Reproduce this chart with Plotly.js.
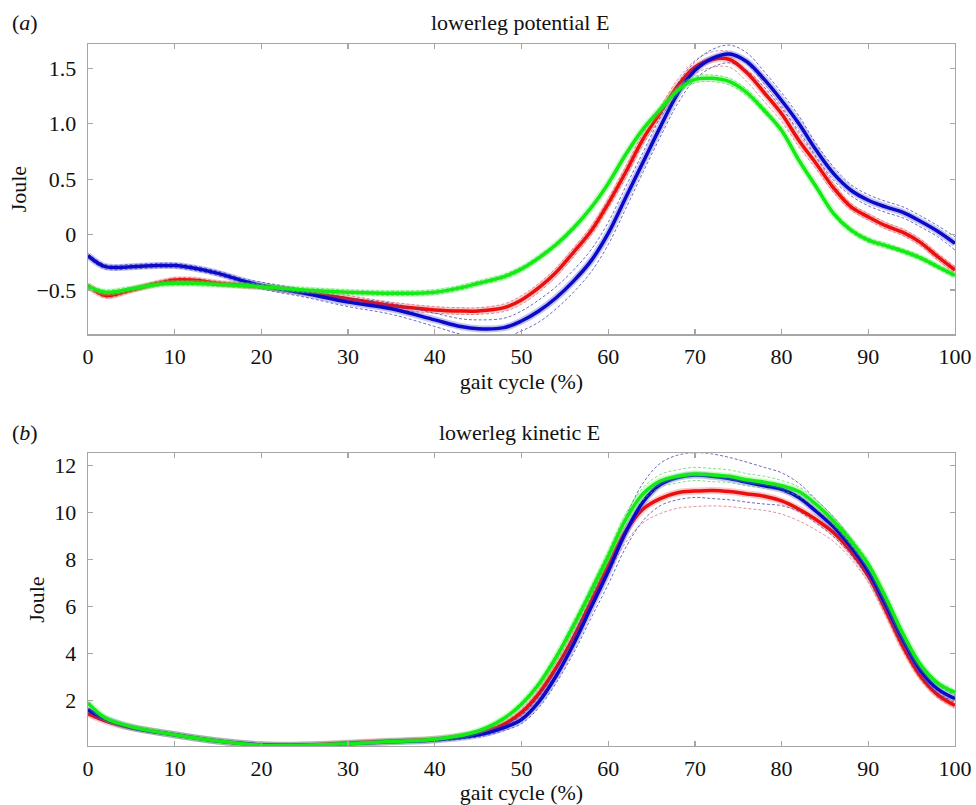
<!DOCTYPE html>
<html>
<head>
<meta charset="utf-8">
<script src="https://cdn.plot.ly/plotly-3.0.1.min.js"></script>
<style>html,body{margin:0;padding:0;background:#fff;}#chart{width:976px;height:805px;}</style>
</head>
<body>
<div id="chart"></div>
<script>
// ---------- Panel (a): lowerleg potential E ----------
const xA = [0,2,5,8,10,12,15,18,20,25,30,35,40,43,45,48,50,52,54,56,58,60,62,64,66,68,70,72,74,76,78,80,82,84,86,88,90,92,94,96,98,100];
const blueA  = [-0.19,-0.29,-0.29,-0.28,-0.28,-0.30,-0.35,-0.42,-0.46,-0.53,-0.61,-0.67,-0.77,-0.83,-0.85,-0.84,-0.78,-0.69,-0.57,-0.42,-0.24,0.01,0.33,0.65,0.97,1.27,1.48,1.59,1.63,1.56,1.40,1.21,1.00,0.76,0.55,0.40,0.31,0.25,0.20,0.12,0.03,-0.08];
const redA   = [-0.46,-0.55,-0.50,-0.44,-0.41,-0.41,-0.44,-0.46,-0.47,-0.52,-0.58,-0.64,-0.68,-0.69,-0.69,-0.66,-0.59,-0.48,-0.34,-0.16,0.03,0.28,0.56,0.86,1.10,1.34,1.51,1.58,1.58,1.46,1.28,1.09,0.85,0.64,0.42,0.25,0.16,0.08,0.02,-0.07,-0.20,-0.32];
const greenA = [-0.47,-0.52,-0.49,-0.45,-0.44,-0.44,-0.45,-0.46,-0.47,-0.50,-0.52,-0.53,-0.52,-0.48,-0.44,-0.38,-0.31,-0.21,-0.09,0.06,0.24,0.46,0.72,0.95,1.13,1.30,1.40,1.41,1.38,1.28,1.12,0.94,0.67,0.43,0.19,0.04,-0.05,-0.10,-0.15,-0.21,-0.29,-0.37];
const blueSdA  = [0.02,0.02,0.02,0.02,0.02,0.02,0.02,0.02,0.03,0.035,0.04,0.05,0.06,0.07,0.08,0.085,0.09,0.10,0.10,0.10,0.10,0.10,0.10,0.09,0.09,0.09,0.08,0.08,0.08,0.08,0.07,0.07,0.07,0.06,0.06,0.05,0.05,0.05,0.05,0.05,0.05,0.06];
const redSdA   = [0.02,0.02,0.02,0.02,0.02,0.02,0.02,0.02,0.02,0.025,0.03,0.03,0.03,0.03,0.03,0.035,0.04,0.04,0.04,0.04,0.04,0.04,0.05,0.05,0.05,0.06,0.06,0.07,0.07,0.08,0.08,0.07,0.06,0.05,0.04,0.03,0.03,0.03,0.03,0.03,0.03,0.03];
const greenSdA = [0.02,0.02,0.02,0.02,0.02,0.02,0.02,0.02,0.02,0.02,0.02,0.02,0.02,0.02,0.02,0.02,0.02,0.02,0.02,0.02,0.02,0.02,0.02,0.02,0.02,0.025,0.03,0.03,0.03,0.03,0.025,0.02,0.02,0.02,0.02,0.02,0.02,0.02,0.02,0.02,0.02,0.02];
const yTickValsA = [1.5,1.0,0.5,0,-0.5];
const yTickTextA = ['1.5','1.0','0.5','0','\u22120.5'];

// ---------- Panel (b): lowerleg kinetic E ----------
const xB = [0,2,5,10,15,20,25,30,35,40,44,46,48,50,52,54,56,58,60,62,64,66,68,70,72,74,76,78,80,82,84,86,88,90,92,94,96,98,100];
const blueB  = [1.62,1.22,0.86,0.55,0.28,0.12,0.10,0.17,0.25,0.33,0.48,0.62,0.85,1.20,1.95,3.05,4.40,5.95,7.50,9.15,10.45,11.20,11.50,11.60,11.55,11.45,11.30,11.15,11.00,10.65,10.05,9.40,8.55,7.50,6.10,4.60,3.30,2.50,2.08];
const redB   = [1.45,1.14,0.85,0.55,0.28,0.12,0.12,0.20,0.28,0.36,0.55,0.72,1.00,1.50,2.30,3.40,4.70,6.20,7.75,9.20,10.15,10.60,10.85,10.92,10.95,10.90,10.80,10.70,10.50,10.15,9.70,9.15,8.35,7.30,5.85,4.30,3.05,2.25,1.80];
const greenB = [1.90,1.26,0.89,0.55,0.28,0.10,0.10,0.17,0.26,0.36,0.60,0.85,1.25,1.85,2.70,3.85,5.20,6.65,8.15,9.70,10.80,11.35,11.55,11.65,11.60,11.55,11.40,11.30,11.15,10.90,10.35,9.65,8.80,7.80,6.40,4.85,3.55,2.75,2.35];
const blueSdB  = [0.08,0.06,0.05,0.05,0.04,0.04,0.04,0.04,0.05,0.06,0.08,0.10,0.12,0.18,0.25,0.30,0.38,0.45,0.55,0.65,0.80,0.90,0.95,0.95,0.95,0.90,0.85,0.78,0.70,0.60,0.50,0.42,0.35,0.30,0.25,0.22,0.20,0.18,0.15];
const redSdB   = [0.08,0.06,0.05,0.05,0.04,0.04,0.04,0.04,0.05,0.05,0.06,0.08,0.10,0.14,0.18,0.22,0.27,0.32,0.38,0.48,0.58,0.64,0.66,0.66,0.66,0.64,0.62,0.60,0.56,0.50,0.44,0.38,0.32,0.27,0.22,0.18,0.15,0.13,0.12];
const greenSdB = [0.08,0.05,0.04,0.04,0.03,0.03,0.03,0.03,0.03,0.04,0.05,0.06,0.07,0.10,0.12,0.14,0.16,0.18,0.20,0.23,0.26,0.27,0.28,0.28,0.28,0.27,0.26,0.25,0.22,0.20,0.18,0.16,0.15,0.14,0.12,0.11,0.10,0.09,0.08];
const yTickValsB = [2,4,6,8,10,12];
const yTickTextB = ['2','4','6','8','10','12'];

const xTickVals = [0,10,20,30,40,50,60,70,80,90,100];

const COLORS = {
  blue:  {main:'rgb(10,10,200)',  halo:'rgba(60,60,220,0.30)',  sd:'rgba(60,60,170,0.75)'},
  red:   {main:'rgb(235,15,15)',  halo:'rgba(240,80,80,0.30)',  sd:'rgba(200,90,110,0.65)'},
  green: {main:'rgb(20,235,20)',  halo:'rgba(80,240,80,0.30)',  sd:'rgba(70,200,70,0.65)'}
};

function offset(mean, sd, sign){ return mean.map((m,i)=> m + sign*sd[i]); }

function seriesTraces(x, mean, sd, col, xa, ya){
  const c = COLORS[col];
  const common = {x:x, type:'scatter', mode:'lines', xaxis:xa, yaxis:ya, showlegend:false, hoverinfo:'skip'};
  return [
    Object.assign({}, common, {y:offset(mean, sd, 1),  line:{color:c.sd, width:1, dash:'3px,2px', shape:'spline', smoothing:1}}),
    Object.assign({}, common, {y:offset(mean, sd, -1), line:{color:c.sd, width:1, dash:'3px,2px', shape:'spline', smoothing:1}}),
    Object.assign({}, common, {y:mean, line:{color:c.halo, width:7, shape:'spline', smoothing:1}}),
    Object.assign({}, common, {y:mean, line:{color:c.main, width:3.5, shape:'spline', smoothing:1}})
  ];
}

function traces(){
  let t = [];
  const defsA = [['red',redA,redSdA],['blue',blueA,blueSdA],['green',greenA,greenSdA]];
  const defsB = [['red',redB,redSdB],['blue',blueB,blueSdB],['green',greenB,greenSdB]];
  defsA.forEach(d=>{ t = t.concat(seriesTraces(xA, d[1], d[2], d[0], 'x', 'y')); });
  defsB.forEach(d=>{ t = t.concat(seriesTraces(xB, d[1], d[2], d[0], 'x2', 'y2')); });
  return t;
}

const FONT = '"Liberation Serif", "Times New Roman", serif';
const FS = 22;
const axisCommon = {
  showline:true, linecolor:'#a6a6a6', linewidth:1.3, mirror:'ticks',
  ticks:'inside', ticklen:5, tickcolor:'#a6a6a6', tickwidth:1.3,
  showgrid:false, zeroline:false,
  tickfont:{family:FONT, size:FS, color:'#111'}
};

const layout = {
  width:976, height:805,
  margin:{l:88, r:21, t:44, b:59},
  paper_bgcolor:'#fff', plot_bgcolor:'#fff',
  font:{family:FONT, size:FS, color:'#111'},
  xaxis: Object.assign({}, axisCommon, {domain:[0,1], range:[0,100], anchor:'y', tickvals:xTickVals, ticktext:xTickVals.map(String), ticklabelstandoff:2,
    title:{text:'gait cycle (%)', font:{family:FONT, size:FS}, standoff:0}}),
  yaxis: Object.assign({}, axisCommon, {domain:[0.5865,1], range:[-0.9,1.72], anchor:'x', tickvals:yTickValsA, ticktext:yTickTextA, ticklabelstandoff:6,
    title:{text:'Joule', font:{family:FONT, size:FS}, standoff:3}}),
  xaxis2: Object.assign({}, axisCommon, {domain:[0,1], range:[0,100], anchor:'y2', tickvals:xTickVals, ticktext:xTickVals.map(String), ticklabelstandoff:2,
    title:{text:'gait cycle (%)', font:{family:FONT, size:FS}, standoff:0}}),
  yaxis2: Object.assign({}, axisCommon, {domain:[0,0.417], range:[0.07,12.53], anchor:'x2', tickvals:yTickValsB, ticktext:yTickTextB, ticklabelstandoff:6,
    title:{text:'Joule', font:{family:FONT, size:FS}, standoff:3}}),
  annotations:[
    {text:'lowerleg potential E', xref:'paper', yref:'paper', x:0.498, y:1.03, xanchor:'center', yanchor:'middle', showarrow:false, font:{family:FONT, size:FS, color:'#111'}},
    {text:'(<i>a</i>)', xref:'paper', yref:'paper', x:-0.073, y:1.03, xanchor:'center', yanchor:'middle', showarrow:false, font:{family:FONT, size:FS, color:'#111'}},
    {text:'lowerleg kinetic E', xref:'paper', yref:'paper', x:0.498, y:0.4459, xanchor:'center', yanchor:'middle', showarrow:false, font:{family:FONT, size:FS, color:'#111'}},
    {text:'(<i>b</i>)', xref:'paper', yref:'paper', x:-0.073, y:0.4459, xanchor:'center', yanchor:'middle', showarrow:false, font:{family:FONT, size:FS, color:'#111'}}
  ]
};

Plotly.newPlot('chart', traces(), layout, {staticPlot:true, displayModeBar:false});
</script>
</body>
</html>
